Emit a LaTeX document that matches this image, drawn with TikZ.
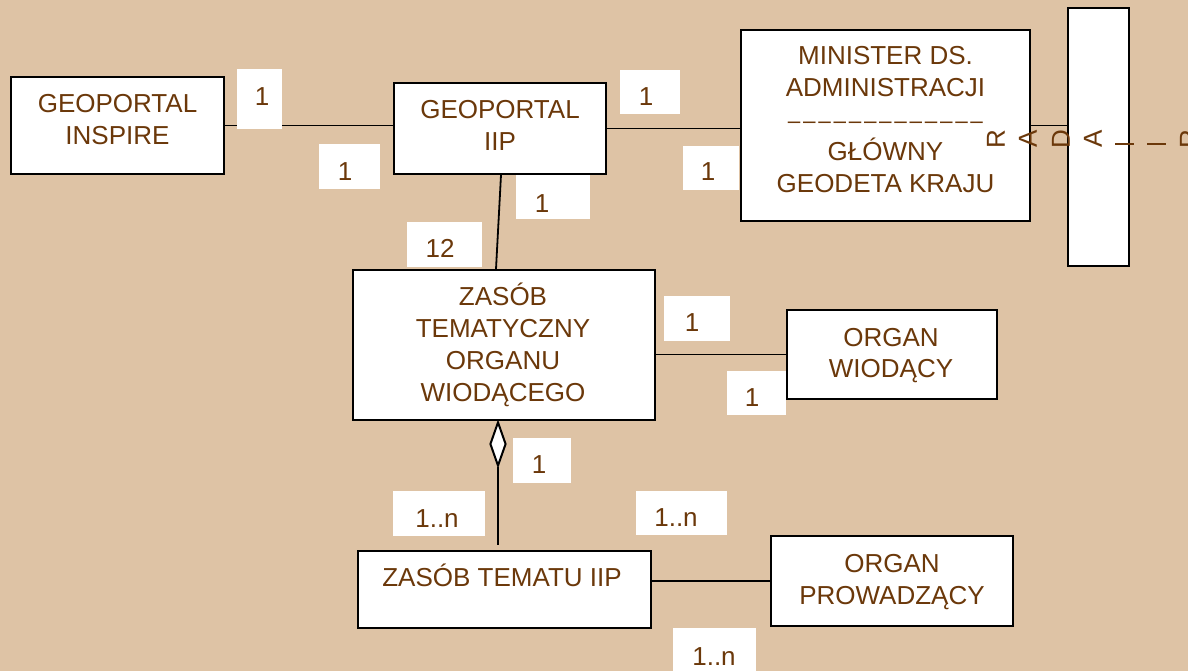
\documentclass[tikz,border=0pt]{standalone}
\usepackage{fontspec}
\setmainfont{Liberation Sans}
\usetikzlibrary{shapes.geometric,calc}
\definecolor{bg}{HTML}{DEC3A5}
\definecolor{txtc}{HTML}{6B380A}
\begin{document}
\begin{tikzpicture}[x=1pt,y=-1pt,
  box/.style={draw=black,line width=2pt,fill=white,rectangle,inner sep=0pt},
  lab/.style={fill=white,rectangle,inner sep=0pt},
  tx/.style={text=txtc,font=\fontsize{26}{32}\selectfont,anchor=base,inner sep=0pt},
  vl/.style={text=txtc,font=\fontsize{26}{32}\selectfont,rotate=90,inner sep=0pt},
  conn/.style={line width=1.8pt,draw=black},
  dashbar/.style={line width=2.5pt,draw=txtc}]
\useasboundingbox (0,0) rectangle (1188,671);
\fill[bg] (0,0) rectangle (1188,671);

% boxes
\node[box,minimum width=213pt,minimum height=97pt] (inspire) at (117.5,125.5) {};
\node[box,minimum width=212pt,minimum height=91pt] (iip) at (500,128.5) {};
\node[box,minimum width=289pt,minimum height=191pt] (minister) at (885.5,125.5) {};
\node[box,minimum width=61pt,minimum height=258pt] (rada) at (1098.5,137) {};
\node[box,minimum width=302pt,minimum height=150pt] (zt) at (504,345) {};
\node[box,minimum width=210pt,minimum height=89pt] (ow) at (892,354.5) {};
\node[box,minimum width=293pt,minimum height=77pt] (ztiip) at (504.5,589.5) {};
\node[box,minimum width=242pt,minimum height=90pt] (op) at (892,581) {};

% connectors
\draw[conn] (inspire.east) -- (inspire.east -| iip.west);
\draw[conn] (iip.east) -- (iip.east -| minister.west);
\draw[conn] (minister.east) -- (minister.east -| rada.west);
\draw[conn] ([xshift=1pt]iip.south) -- ([xshift=-8pt]zt.north);
\draw[conn] (ow.west) -- (ow.west -| zt.east);
\node[draw=black,line width=2pt,fill=white,shape=diamond,inner sep=0pt,
      minimum width=16pt,minimum height=44pt] (dia) at (498,444) {};
\draw[conn] (dia.south) -- ([yshift=5pt]dia.south |- ztiip.north);
\draw[conn] (op.west) -- (op.west -| ztiip.east);

% multiplicity label boxes
\node[lab,minimum width=45pt,minimum height=60pt] (l1) at (259.5,99) {};
\node[lab,minimum width=61pt,minimum height=45pt] (l2) at (349.5,166.5) {};
\node[lab,minimum width=60pt,minimum height=44pt] (l3) at (650,92) {};
\node[lab,minimum width=56pt,minimum height=44pt] (l4) at (711,168) {};
\node[lab,minimum width=74pt,minimum height=43pt] (l5) at (553,197) {};
\node[lab,minimum width=75pt,minimum height=45pt] (l6) at (444.5,244.5) {};
\node[lab,minimum width=66pt,minimum height=45pt] (l7) at (697,318.5) {};
\node[lab,minimum width=59pt,minimum height=44pt] (l8) at (756.5,393) {};
\node[lab,minimum width=58pt,minimum height=45pt] (l9) at (542,460.5) {};
\node[lab,minimum width=92pt,minimum height=45pt] (l10) at (439,513.5) {};
\node[lab,minimum width=91pt,minimum height=44pt] (l11) at (681.5,513) {};
\node[lab,minimum width=83pt,minimum height=48pt] (l12) at (714.5,652) {};

\node[tx] (t1) at (262,106) {1};
\node[tx] (t2) at (345,181) {1};
\node[tx] (t3) at (646,106) {1};
\node[tx] (t4) at (708,181) {1};
\node[tx] (t5) at (542,212) {1};
\node[tx] (t6) at (440,257) {12};
\node[tx] (t7) at (692,331) {1};
\node[tx] (t8) at (752,406) {1};
\node[tx] (t9) at (539,473) {1};
\node[tx] (t10) at (437,527) {1..n};
\node[tx] (t11) at (676,526) {1..n};
\node[tx] (t12) at (714,665) {1..n};

% box texts
\node[tx] (inspireA) at (117.5,113) {GEOPORTAL};
\node[tx] (inspireB) at (117.5,145) {INSPIRE};
\node[tx] (iipA) at (500,119) {GEOPORTAL};
\node[tx] (iipB) at (500,151) {IIP};
\node[tx] (minA) at (885.5,65) {MINISTER DS.};
\node[tx] (minB) at (885.5,97) {ADMINISTRACJI};
\node[tx,font=\fontsize{22.5}{32}\selectfont] (minC) at (885.5,129)
  {–\kern2.7pt–\kern2.7pt–\kern2.7pt–\kern2.7pt–\kern2.7pt–\kern2.7pt–\kern2.7pt–\kern2.7pt–\kern2.7pt–\kern2.7pt–\kern2.7pt–\kern2.7pt–};
\node[tx] (minD) at (885.5,161) {GŁÓWNY};
\node[tx] (minE) at (885.5,193) {GEODETA KRAJU};
\node[tx] (ztA) at (503,305) {ZASÓB};
\node[tx] (ztB) at (503,337) {TEMATYCZNY};
\node[tx] (ztC) at (503,369) {ORGANU};
\node[tx] (ztD) at (503,401) {WIODĄCEGO};
\node[tx] (owA) at (891,346) {ORGAN};
\node[tx] (owB) at (891,377) {WIODĄCY};
\node[tx] (ztiipA) at (502,586) {ZASÓB TEMATU IIP};
\node[tx] (opA) at (892,572) {ORGAN};
\node[tx] (opB) at (892,604) {PROWADZĄCY};

% vertical letters
\node[vl] (r1) at (996,139) {R};
\node[vl] (r2) at (1028,139) {A};
\node[vl] (r3) at (1061,139) {D};
\node[vl] (r4) at (1093,139) {A};
\node[vl] (r5) at (1189,139) {R};
\coordinate (d1a) at (1115,144); \coordinate (d1b) at (1134,144);
\coordinate (d2a) at (1147,144); \coordinate (d2b) at (1166,144);
\draw[dashbar] (d1a) -- (d1b);
\draw[dashbar] (d2a) -- (d2b);
\end{tikzpicture}
\end{document}
